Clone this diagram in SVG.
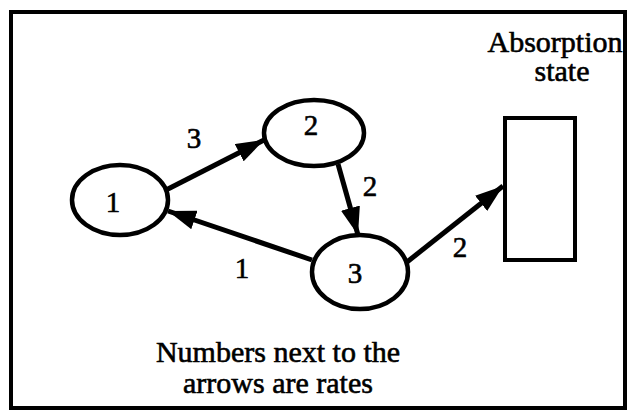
<svg xmlns="http://www.w3.org/2000/svg" width="628" height="410" viewBox="0 0 628 410">
<style>
.node{fill:#fff;stroke:#000;stroke-width:4.5}
.edge{stroke:#000;stroke-width:5;fill:none;marker-end:url(#ah)}
.t{font-family:"Liberation Serif","Times New Roman",serif;fill:#000;stroke:#000;stroke-width:0.6;text-anchor:middle}
.lbl{font-size:29px}
.cap{font-size:30px}
</style>
<defs>
<marker id="ah" viewBox="0 0 10 7" refX="10" refY="3.5" markerWidth="5.6" markerHeight="3.9" markerUnits="strokeWidth" orient="auto">
<path d="M0,0 L10,3.5 L0,7 Z" fill="#000"/>
</marker>
</defs>
<rect x="11" y="12" width="614" height="396" fill="#fff" stroke="#000" stroke-width="4"/>
<g id="connectors">
<line class="edge" x1="166" y1="190" x2="264" y2="140"/>
<line class="edge" x1="338" y1="164" x2="358" y2="235"/>
<line class="edge" x1="312" y1="260" x2="168" y2="211"/>
<line class="edge" x1="407" y1="262" x2="503" y2="186"/>
<text class="t lbl" x="194" y="148">3</text>
<text class="t lbl" x="370" y="196">2</text>
<text class="t lbl" x="242" y="278">1</text>
<text class="t lbl" x="460" y="257">2</text>
</g>
<g id="node1">
<ellipse class="node" cx="120" cy="200" rx="48" ry="35"/>
<text class="t lbl" x="113" y="212">1</text>
</g>
<g id="node2">
<ellipse class="node" cx="314" cy="133" rx="50" ry="33"/>
<text class="t lbl" x="311" y="135">2</text>
</g>
<g id="node3">
<ellipse class="node" cx="360" cy="272" rx="48" ry="37"/>
<text class="t lbl" x="355" y="283">3</text>
</g>
<g id="absorption">
<rect x="505" y="118" width="70" height="142" fill="#fff" stroke="#000" stroke-width="4"/>
<text class="t cap" x="555" y="52">Absorption</text>
<text class="t cap" x="562" y="81">state</text>
</g>
<g id="caption">
<text class="t cap" x="278" y="362">Numbers next to the</text>
<text class="t cap" x="278" y="393">arrows are rates</text>
</g>
</svg>
